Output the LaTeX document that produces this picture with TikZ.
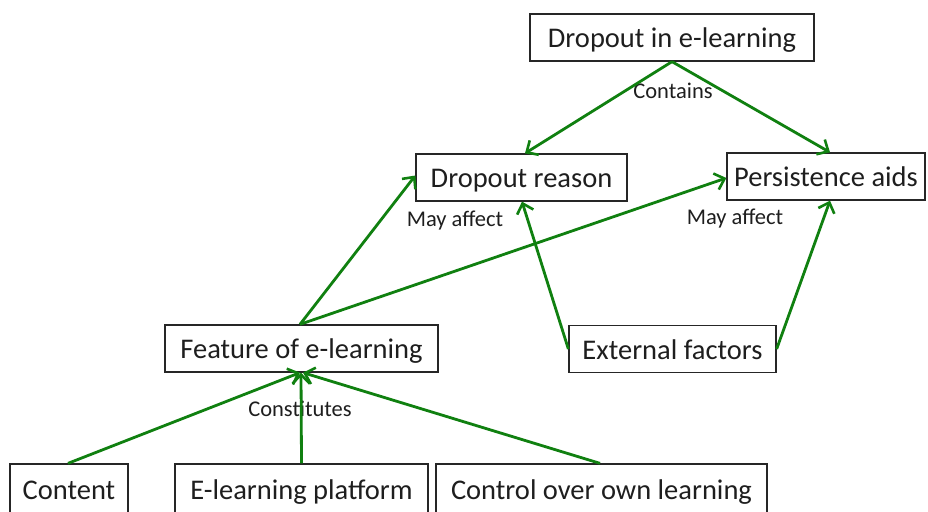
\documentclass[tikz,border=0pt]{standalone}
\usepackage{fontspec}
\setmainfont{Carlito}
\usetikzlibrary{arrows.meta}
\definecolor{linkgreen}{RGB}{16,128,16}
\definecolor{textgray}{RGB}{30,30,30}
\tikzset{
  box/.style={draw=black!85, line width=1.3pt, rectangle, inner sep=0pt,
    minimum height=47pt, text height=20pt, text depth=0pt,
    text=textgray, font=\fontsize{28.5}{32}\selectfont},
  link/.style={draw=linkgreen, line width=2.8pt,
    -{Straight Barb[length=9pt,width=17pt,line width=2.6pt]}},
  tag/.style={text=textgray, font=\fontsize{22.5}{25}\selectfont, inner sep=0pt}
}
\begin{document}
\begin{tikzpicture}[x=1pt,y=-1pt]
\useasboundingbox (0,0) rectangle (928,511);

% boxes
\node[box, minimum width=284pt] (top) at (672,37.5) {Dropout in e-learning};
\node[box, minimum width=211pt] (reason) at (521.5,177.5) {Dropout reason};
\node[box, minimum width=198pt] (aids) at (826,176.5) {Persistence aids};
\node[box, minimum width=273pt] (feat) at (301.5,348.5) {Feature of e-learning};
\node[box, minimum width=207pt] (ext) at (672.5,349) {External factors};
\node[box, minimum width=118pt, minimum height=50pt] (content) at (69,489) {Content};
\node[box, minimum width=253pt, minimum height=50pt] (platform) at (301.5,489) {E-learning platform};
\node[box, minimum width=331pt, minimum height=50pt] (control) at (601.5,489) {Control over own learning};

% labels
\node[tag] (lcontains) at (673,91) {Contains};
\node[tag] (laffect1) at (455,221) {May affect};
\node[tag] (laffect2) at (735,219) {May affect};
\node[tag] (lconst) at (300,409) {Constitutes};

% connectors
\draw[link] (top.south) -- ([xshift=3.5pt]reason.north);
\draw[link] (top.south) -- ([xshift=4pt]aids.north);
\draw[link] ([xshift=-1.5pt]feat.north) -- ([yshift=2pt]reason.west);
\draw[link] ([xshift=-1.5pt]feat.north) -- ([yshift=-1.5pt]aids.west);
\draw[link] (ext.west) -- ([xshift=0.5pt]reason.south);
\draw[link] (ext.east) -- ([xshift=4pt]aids.south);
\draw[link] ([xshift=-1pt]content.north) -- ([xshift=-1.5pt]feat.south);
\draw[link] (platform.north) -- ([xshift=-0.5pt]feat.south);
\draw[link] ([xshift=-1.5pt]control.north) -- ([xshift=1.5pt]feat.south);
\end{tikzpicture}
\end{document}
